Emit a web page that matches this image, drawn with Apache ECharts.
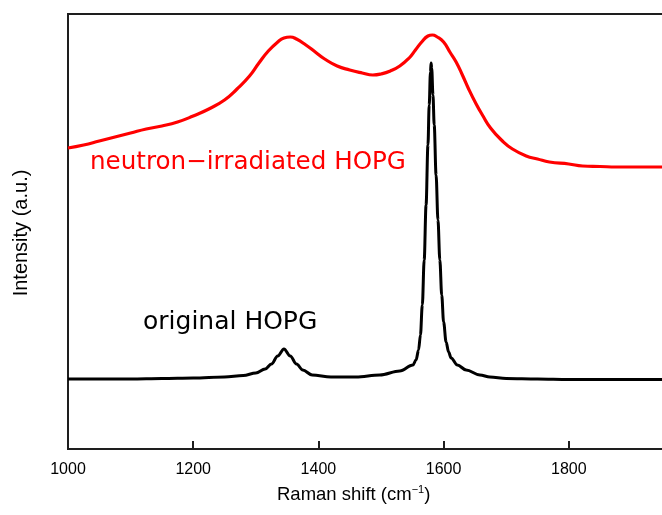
<!DOCTYPE html>
<html><head><meta charset="utf-8">
<script src="https://cdn.jsdelivr.net/npm/echarts@6/dist/echarts.min.js"></script>
<style>html,body{margin:0;padding:0;background:#fff}#c{width:662px;height:515px}</style>
</head><body><div id="c"></div>
<script>
// Raman shift (cm-1) and intensity (a.u.)
const originalWn = [1000,1050,1100,1150,1200,1250,1280,1300,1315,1325,1335,1345,1355,1365,1375,1390,1420,1460,1498,1530,1551,1556,1560,1563,1566,1569,1572,1575,1577,1579,1580,1581,1583,1585,1588,1591,1594,1597,1600,1604,1608,1612,1622,1636,1658,1674,1700,1750,1800,1850,1900,1950,2000];
const originalI  = [70,70,70,70.5,71,72,73.5,76,80,85,93,100,93,85,79,74,72,72,74,78,84,89,99,114,144,189,244,304,344,377,386,381,354,324,274,229,189,154,127,107,97,91,84,79,74,72,70.5,70,69.5,69.5,69.5,69.5,69.5];
const irradWn = [1000,1025,1050,1075,1100,1125,1150,1175,1200,1225,1250,1270,1290,1305,1320,1335,1345,1355,1365,1380,1395,1410,1430,1450,1470,1487,1500,1515,1530,1545,1555,1565,1575,1582,1590,1600,1610,1620,1630,1640,1652,1662,1675,1694,1710,1732,1750,1769,1800,1822,1850,1876,1900,1945,2000];
const irradI  = [301,304,308,312,316,320,323,327,333,340,349,360,373,386,398,407,411,412,410,404,397,390,383,379,376,374,375,378,383,391,399,407,413,414,412,407,397,387,374,360,345,334,321,308,300,293,290,287,285,283,282.5,282,282,282,282];
const xMin = 1000, xMax = 2000, xStep = 200;
const seriesNames = ['original HOPG', 'neutron\u2212irradiated HOPG'];

const chart = echarts.init(document.getElementById('c'), null, {renderer:'canvas'});
const axisColor = '#1e1e1e';
chart.setOption({
  animation:false,
  backgroundColor:'#fff',
  grid:{left:68, top:14, width:626, height:435, outerBoundsMode:'none', containLabel:false, show:true, borderColor:axisColor, borderWidth:2, backgroundColor:'transparent'},
  xAxis:{type:'value', min:xMin, max:xMax, interval:xStep,
    axisLine:{show:true, onZero:false, lineStyle:{color:axisColor, width:2}},
    axisTick:{show:true, inside:true, length:8, lineStyle:{color:axisColor, width:2}},
    axisLabel:{color:'#000', fontFamily:'Liberation Sans', fontSize:16, margin:13, formatter:(v)=>String(v)},
    splitLine:{show:false}},
  yAxis:{type:'value', min:0, max:435,
    axisLine:{show:true, lineStyle:{color:axisColor, width:2}},
    axisTick:{show:false}, axisLabel:{show:false}, splitLine:{show:false}},
  series:[
    {name:seriesNames[0], type:'line', data:originalWn.map((w,i)=>[w,originalI[i]]), showSymbol:false, smooth:0.35, smoothMonotone:'x',
      lineStyle:{color:'#000', width:3}},
    {name:seriesNames[1], type:'line', data:irradWn.map((w,i)=>[w,irradI[i]]), showSymbol:false, smooth:0.5,
      lineStyle:{color:'#ff0000', width:3.2}}
  ],
  graphic:[
    {type:'text', left:90, top:150, style:{text:seriesNames[1], fill:'#ff0000', font:'24.6px "DejaVu Sans"'}},
    {type:'text', left:143, top:310, style:{text:seriesNames[0], fill:'#000', font:'25px "DejaVu Sans"'}},
    {type:'text', left:277, top:484, style:{rich:{n:{fontFamily:'Liberation Sans', fontSize:18.5, fill:'#000', lineHeight:22}, s:{fontFamily:'Liberation Sans', fontSize:11, fill:'#000', verticalAlign:'top', lineHeight:22, padding:[0,0,8,0]}}, text:'{n|Raman shift (cm}{s|\u22121}{n|)}'}},
    {type:'text', x:21, y:233, rotation:Math.PI/2, style:{text:'Intensity (a.u.)', fill:'#000', font:'20px "Liberation Sans"', align:'center', verticalAlign:'middle'}}
  ]
});
</script>
</body></html>
